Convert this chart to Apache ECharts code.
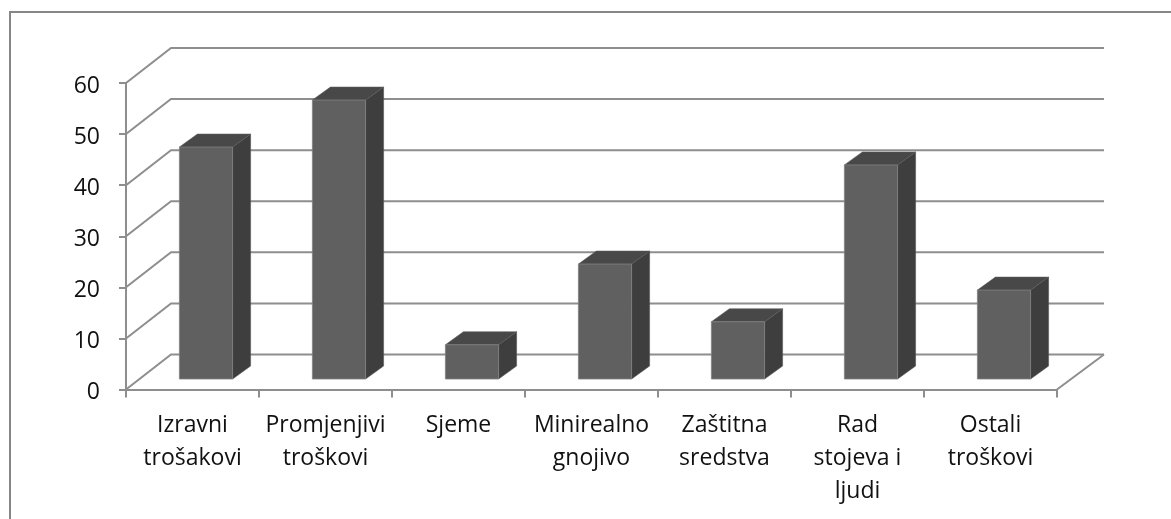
<!DOCTYPE html>
<html><head><meta charset="utf-8">
<style>html,body{margin:0;padding:0;background:#fff}#c{width:1171px;height:519px}</style>
<script src="https://cdn.jsdelivr.net/npm/echarts@6/dist/echarts.min.js"></script>
</head><body><div id="c"></div>
<script>
const categories = ['Izravni\ntrošakovi','Promjenjivi\ntroškovi','Sjeme','Minirealno\ngnojivo','Zaštitna\nsredstva','Rad\nstojeva i\nljudi','Ostali\ntroškovi'];
const values = [45.4,54.6,6.7,22.5,11.2,41.9,17.4];
const ticks = [0,10,20,30,40,50,60];

const WALL_DX = 45, WALL_DY = -35;     // depth of the 3D box
const WALL_EXTRA = 2;                  // back wall runs slightly further right
const BAR_DX = 13.5, BAR_DY = -10.5;   // front of the bars inside the box
const DEPTH_DX = 18, DEPTH_DY = -13;   // depth of one bar
const LINE = '#8e8e8e';

const chart = echarts.init(document.getElementById('c'), null, {renderer:'canvas'});

function renderWall(params, api){
  const v = api.value(0);
  const cs = params.coordSys;
  const y = api.coord([0, v])[1];
  const x0 = cs.x, x1 = cs.x + cs.width;
  const backRight = x1 + WALL_DX + WALL_EXTRA;
  const children = [{
    type:'polyline',
    shape:{points:[[x0,y],[x0+WALL_DX,y+WALL_DY],[backRight,y+WALL_DY]]},
    style:{stroke:LINE,lineWidth:2,fill:null}
  }];
  if (v === 0) children.push({
    type:'line',
    shape:{x1:x1,y1:y,x2:backRight,y2:y+WALL_DY},
    style:{stroke:LINE,lineWidth:2}
  });
  return {type:'group',children};
}

function renderBar(params, api){
  const i = api.value(0), v = api.value(1);
  const c0 = api.coord([i,0]), c1 = api.coord([i,v]);
  const w = api.size([1,0])[0]*0.4;
  const l = c0[0]-w/2+BAR_DX, r = l+w;
  const b = c0[1]+BAR_DY, t = c1[1]+BAR_DY;
  return {type:'group',children:[
    {type:'polygon',shape:{points:[[r,t],[r+DEPTH_DX,t+DEPTH_DY],[r+DEPTH_DX,b+DEPTH_DY],[r,b]]},style:{fill:'#3e3e3e',stroke:'#555',lineWidth:0.6}},
    {type:'polygon',shape:{points:[[l,t],[l+DEPTH_DX,t+DEPTH_DY],[r+DEPTH_DX,t+DEPTH_DY],[r,t]]},style:{fill:'#484848',stroke:'#5a5a5a',lineWidth:0.6}},
    {type:'rect',shape:{x:l,y:t,width:w,height:b-t},style:{fill:'#606060',stroke:'#808080',lineWidth:0.8}}
  ]};
}

chart.setOption({
  animation:false,
  backgroundColor:'#fff',
  graphic:[{type:'rect',silent:true,z:-1,shape:{x:10,y:12,width:1300,height:700},style:{fill:'#fff',stroke:'#868686',lineWidth:2}}],
  grid:{left:126,right:114,top:83,bottom:129.5},
  xAxis:{type:'category',data:categories,
    axisLine:{lineStyle:{color:LINE,width:2}},
    axisTick:{show:true,length:8,alignWithLabel:false,lineStyle:{color:LINE,width:2}},
    axisLabel:{interval:0,color:'#111',fontFamily:'Open Sans',fontSize:23,lineHeight:33,margin:19},
    splitLine:{show:false}},
  yAxis:{type:'value',min:0,max:60,interval:10,
    axisLine:{show:true,lineStyle:{color:LINE,width:2}},
    axisTick:{show:true,length:7,lineStyle:{color:LINE,width:2}},
    axisLabel:{color:'#111',fontFamily:'Open Sans',fontSize:23,margin:26,verticalAlign:'top',lineHeight:6},
    splitLine:{show:false}},
  series:[
    {type:'custom',coordinateSystem:'cartesian2d',renderItem:renderWall,data:ticks.map(t=>[t]),encode:{y:0},z:1,silent:true,clip:false},
    {type:'custom',coordinateSystem:'cartesian2d',renderItem:renderBar,data:values.map((v,i)=>[i,v]),encode:{x:0,y:1},z:2,silent:true,clip:false}
  ]
});
</script></body></html>
